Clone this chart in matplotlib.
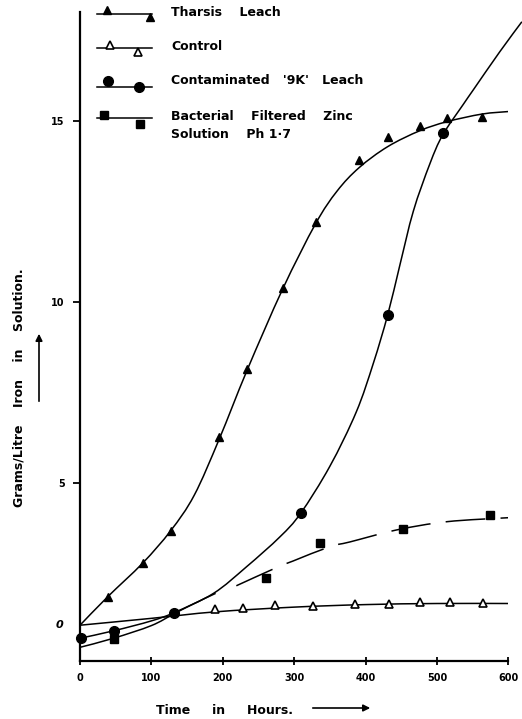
import matplotlib
matplotlib.use("Agg")
import matplotlib.pyplot as plt
import matplotlib.transforms as mtransforms
from matplotlib.path import Path
from matplotlib.patches import PathPatch, FancyArrowPatch

# --- data (hours, g/L on the drawn axis scale) ---
tharsis_h = [39, 88, 127, 195, 234, 284, 330, 391, 431, 476, 514, 563]
tharsis_v = [1.85, 2.78, 3.67, 6.27, 8.13, 10.38, 12.20, 13.91, 14.54, 14.85, 15.06, 15.09]
tharsis_curve_h = [0, 39, 88, 127, 160, 195, 234, 284, 330, 360, 391, 431, 476, 514, 563, 600]
tharsis_curve_v = [1.06, 1.85, 2.78, 3.67, 4.65, 6.20, 8.10, 10.35, 12.15, 13.05, 13.70, 14.28, 14.72, 14.97, 15.18, 15.25]

control_h = [189, 228, 273, 327, 385, 433, 477, 519, 565]
control_v = [1.50, 1.54, 1.62, 1.60, 1.64, 1.64, 1.71, 1.69, 1.68]
control_curve_h = [0, 100, 190, 300, 400, 500, 600]
control_curve_v = [1.06, 1.25, 1.43, 1.56, 1.63, 1.66, 1.66]

contam_h = [2, 48, 132, 309, 431, 508]
contam_v = [0.72, 0.91, 1.41, 4.15, 9.63, 14.66]
contam_curve_h = [0, 48, 100, 132, 187, 233, 280, 309, 350, 387, 411, 431, 448, 467,
                  490, 508, 537, 551, 588, 619]
contam_curve_v = [0.70, 0.91, 1.18, 1.41, 1.94, 2.67, 3.50, 4.15, 5.45, 6.95, 8.30, 9.63,
                  11.0, 12.50, 13.80, 14.60, 15.45, 15.85, 16.90, 17.73]

zinc_h = [47, 260, 336, 452, 575]
zinc_v = [0.67, 2.37, 3.34, 3.73, 4.10]
zinc_solid_h = [0, 47, 100, 132, 160, 190]
zinc_solid_v = [0.45, 0.70, 1.05, 1.38, 1.66, 1.94]
zinc_dash_h = [219, 275, 298, 350, 378, 443, 514, 600]
zinc_dash_v = [2.15, 2.65, 2.83, 3.23, 3.36, 3.69, 3.92, 4.03]

x_ticks = [0, 100, 200, 300, 400, 500, 600]
y_ticks = [5, 10, 15]
zero_label_v = 1.06  # where the printed "0" sits on the drawn scale

W, H = 522, 719
fig = plt.figure(figsize=(W / 100, H / 100), dpi=100)
ax = fig.add_axes([80 / W, 1 - 660.7 / H, 428.3 / W, 648.7 / H])

font = dict(family="DejaVu Sans", weight="bold")
lw = 1.1


def smooth_curve(ax, xs, ys, **kw):
    # Catmull-Rom through the traced points, drawn as cubic Bezier segments
    pts = list(zip(xs, ys))
    verts = [pts[0]]
    codes = [Path.MOVETO]
    n = len(pts)
    for i in range(n - 1):
        p0 = pts[max(i - 1, 0)]
        p1 = pts[i]
        p2 = pts[i + 1]
        p3 = pts[min(i + 2, n - 1)]
        c1 = (p1[0] + (p2[0] - p0[0]) / 6, p1[1] + (p2[1] - p0[1]) / 6)
        c2 = (p2[0] - (p3[0] - p1[0]) / 6, p2[1] - (p3[1] - p1[1]) / 6)
        verts += [c1, c2, p2]
        codes += [Path.CURVE4] * 3
    patch = PathPatch(Path(verts, codes), fill=False, edgecolor="black", **kw)
    ax.add_patch(patch)
    return patch


# curves
smooth_curve(ax, tharsis_curve_h, tharsis_curve_v, lw=lw)
smooth_curve(ax, control_curve_h, control_curve_v, lw=lw)
smooth_curve(ax, contam_curve_h, contam_curve_v, lw=lw, clip_on=False)
smooth_curve(ax, zinc_solid_h, zinc_solid_v, lw=lw)
smooth_curve(ax, zinc_dash_h, zinc_dash_v, lw=lw, linestyle=(0, (26, 10)))

# markers
ax.plot(tharsis_h, tharsis_v, "^", color="black", ms=5.5, ls="none")
ax.plot(control_h, control_v, "^", mfc="white", mec="black", mew=1.2, ms=5.5, ls="none")
ax.plot(contam_h, contam_v, "o", color="black", ms=7, ls="none", clip_on=False)
ax.plot(zinc_h, zinc_v, "s", color="black", ms=5.5, ls="none")

ax.set_xlim(0, 600)
ax.set_ylim(0.08, 18.0)
for side in ("top", "right"):
    ax.spines[side].set_visible(False)
for side in ("left", "bottom"):
    ax.spines[side].set_linewidth(1.6)

ax.set_xticks(x_ticks)
ax.set_xticklabels([str(t) for t in x_ticks], fontsize=7, **font)
ax.set_yticks(y_ticks)
ax.set_yticklabels([str(t) for t in y_ticks], fontsize=7, **font)
ax.tick_params(axis="x", direction="inout", length=6, width=1.3, pad=6)
ax.tick_params(axis="y", direction="out", length=5, width=1.3, pad=6)

trans = mtransforms.blended_transform_factory(ax.transAxes, ax.transData)
ax.text(-0.04, zero_label_v, "0", transform=trans, ha="right", va="center",
        fontsize=8, style="italic", **font)


# legend drawn by hand, like the original
def fx(px):
    return (px - 80) / 428.3


def fy(py):
    return (660.7 - py) / 648.7


legend_rows = [
    (14, (107, 10), (150, 17), dict(marker="^", color="black", ms=6)),
    (48, (110, 45), (138, 52), dict(marker="^", mfc="white", mec="black", mew=1.2, ms=5.5)),
    (87, (108, 81), (139, 87), dict(marker="o", color="black", ms=7)),
    (118, (104, 115), (140, 124), dict(marker="s", color="black", ms=5.5)),
]
for ly, m1, m2, style in legend_rows:
    ax.plot([fx(97), fx(152)], [fy(ly), fy(ly)], color="black", lw=lw,
            transform=ax.transAxes, clip_on=False)
    ax.plot([fx(m1[0]), fx(m2[0])], [fy(m1[1]), fy(m2[1])], ls="none",
            transform=ax.transAxes, clip_on=False, **style)

legend_texts = [
    (13, "Tharsis    Leach"),
    (46, "Control"),
    (81, "Contaminated   '9K'   Leach"),
    (116, "Bacterial    Filtered    Zinc"),
    (134, "Solution    Ph 1·7"),
]
for ty, txt in legend_texts:
    fig.text(171 / W, 1 - ty / H, txt, ha="left", va="center", fontsize=9, **font)

# axis titles with arrows
fig.text(225 / W, 1 - 710 / H, "Time     in     Hours.", ha="center", va="center",
         fontsize=9, **font)
fig.add_artist(FancyArrowPatch(
    (310 / W, 1 - 708 / H), (373 / W, 1 - 708 / H), transform=fig.transFigure,
    arrowstyle="-|>", mutation_scale=10, color="black", lw=1.2))

fig.text(19 / W, 1 - 388 / H, "Grams/Litre    Iron    in    Solution.", rotation=90,
         ha="center", va="center", fontsize=9, **font)
fig.add_artist(FancyArrowPatch(
    (39 / W, 1 - 404 / H), (39 / W, 1 - 331 / H), transform=fig.transFigure,
    arrowstyle="-|>", mutation_scale=10, color="black", lw=1.2))

fig.savefig("out.png", dpi=100)
